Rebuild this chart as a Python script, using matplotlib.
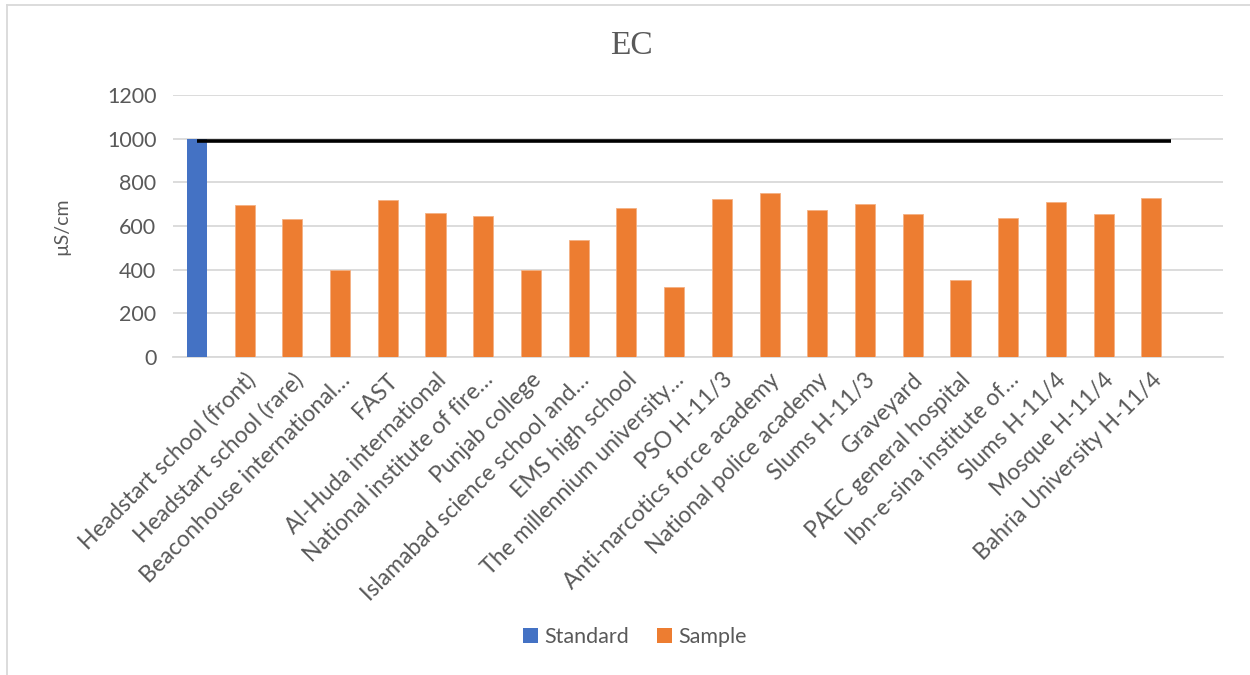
import matplotlib
matplotlib.use("Agg")
import matplotlib.pyplot as plt
import matplotlib.transforms as mtransforms
from matplotlib.lines import Line2D
from matplotlib.patches import Patch

# EC readings (µS/cm) per site; first slot holds the permissible standard
sites = [
    "Headstart school (front)", "Headstart school (rare)",
    "Beaconhouse international…", "FAST", "Al-Huda international",
    "National institute of fire…", "Punjab college",
    "Islamabad science school and…", "EMS high school",
    "The millennium university…", "PSO H-11/3",
    "Anti-narcotics force academy", "National police academy",
    "Slums H-11/3", "Graveyard", "PAEC general hospital",
    "Ibn-e-sina institute of…", "Slums H-11/4", "Mosque H-11/4",
    "Bahria University H-11/4",
]
sample_ec = [697, 634, 400, 721, 660, 647, 400, 538, 683, 322,
             726, 752, 674, 703, 656, 353, 639, 712, 657, 731]
standard_ec = 1000
limit_line = 990

BLUE = "#4472C4"
ORANGE = "#ED7D31"
GRID = "#D9D9D9"
TEXT = "#595959"

plt.rcParams["font.family"] = ["Lato", "DejaVu Sans"]

fig = plt.figure(figsize=(12.5, 6.75), dpi=100)
ax = fig.add_axes([0.1384, 0.471, 0.84, 0.388])

n = len(sites)
x_std = 0
x_samples = list(range(1, n + 1))
bar_w = 0.42

ax.bar(x_std, standard_ec, width=bar_w, color=BLUE, zorder=3)
ax.bar(x_samples, sample_ec, width=bar_w, color=ORANGE, zorder=3,
       edgecolor="#F4B183", linewidth=0.6)

# horizontal limit line across the samples
ax.plot([0, n + 0.41], [limit_line, limit_line], color="black",
        linewidth=2.6, solid_capstyle="butt", zorder=4)

ax.set_xlim(-0.5, n + 1.5)
ax.set_ylim(0, 1200)
ax.set_yticks(range(0, 1201, 200))
ax.yaxis.grid(True, color=GRID, linewidth=1.3, zorder=0)
ax.set_axisbelow(True)

ax.set_xticks(range(n + 2))
ax.set_xticklabels([""] + sites + [""], rotation=45, ha="right",
                   va="center", rotation_mode="anchor")
ax.tick_params(axis="x", length=0, pad=14, labelsize=16.5, labelcolor=TEXT)
ax.tick_params(axis="y", length=0, pad=12, labelsize=15.5, labelcolor=TEXT)

# nudge the slanted labels a little to the right
shift = mtransforms.ScaledTranslation(7 / 100, 0, fig.dpi_scale_trans)
for lbl in ax.get_xticklabels():
    lbl.set_transform(lbl.get_transform() + shift)

for side in ("top", "right", "left"):
    ax.spines[side].set_visible(False)
ax.spines["bottom"].set_color(GRID)
ax.spines["bottom"].set_linewidth(1.3)

ax.set_ylabel("µS/cm", fontsize=14, color=TEXT, labelpad=26)

fig.text(0.505, 0.932, "EC", ha="center", va="center", fontsize=24,
         color=TEXT, family="Liberation Serif")

handles = [Patch(facecolor=BLUE, label="Standard"),
           Patch(facecolor=ORANGE, label="Sample")]
fig.legend(handles=handles, loc="center", bbox_to_anchor=(0.508, 0.056),
           ncol=2, frameon=False, fontsize=15.5, labelcolor=TEXT,
           handlelength=0.7, handleheight=0.7, handletextpad=0.3,
           columnspacing=1.3)

# chart frame (left and top edges)
fig.add_artist(Line2D([0.0058, 0.0058], [0, 0.993], color=GRID,
                      linewidth=1.3, transform=fig.transFigure))
fig.add_artist(Line2D([0.0058, 1], [0.993, 0.993], color=GRID,
                      linewidth=1.3, transform=fig.transFigure))

fig.savefig("out.png", dpi=100, facecolor="white")
